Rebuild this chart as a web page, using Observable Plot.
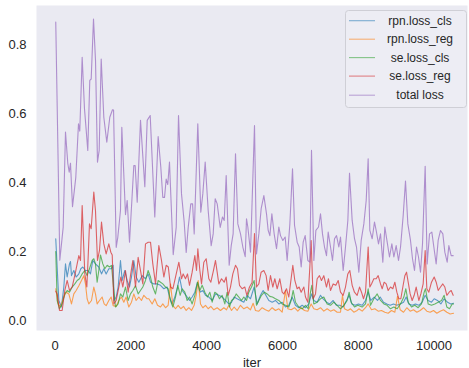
<!DOCTYPE html>
<html><head><meta charset="utf-8">
<script src="https://cdn.jsdelivr.net/npm/d3@7"></script>
<script src="https://cdn.jsdelivr.net/npm/@observablehq/plot@0.6"></script>
<style>
html,body{margin:0;padding:0;background:#fff;}
#chart{width:469px;height:368px;}
</style></head><body><div id="chart"></div>
<script>
const seriesNames = ["rpn.loss_cls", "rpn.loss_reg", "se.loss_cls", "se.loss_reg", "total loss"];
const seriesColors = ["#1f77b4", "#ff7f0e", "#2ca02c", "#d62728", "#9467bd"];
const xTicks = [0, 2000, 4000, 6000, 8000, 10000];
const yTicks = [0, 0.2, 0.4, 0.6, 0.8];

const rpnClsIter = [20,101,171,233,277,321,382,409,435,497,558,629,681,734,804,875,936,998,1068,1156,1227,1288,1350,1420,1490,1535,1560,1614,1666,1728,1772,1842,1904,1965,2018,2080,2141,2212,2300,2388,2458,2520,2608,2696,2784,2872,2960,3021,3092,3162,3224,3285,3355,3426,3487,3549,3619,3690,3760,3822,3901,3971,4059,4147,4235,4323,4411,4499,4587,4657,4727,4806,4894,4982,5070,5158,5255,5334,5422,5492,5563,5642,5730,5817,5906,5994,6081,6169,6257,6345,6433,6521,6609,6697,6767,6829,6917,7005,7075,7163,7251,7339,7427,7515,7603,7691,7761,7832,7920,8008,8105,8193,8263,8334,8422,8510,8580,8668,8756,8844,8932,9020,9108,9196,9266,9336,9424,9512,9600,9688,9767,9846,9934,10005,10093,10181,10268,10356,10444,10515];
const rpnClsValue = [0.237,0.058,0.039,0.097,0.164,0.126,0.164,0.171,0.13,0.145,0.126,0.135,0.15,0.155,0.145,0.145,0.135,0.174,0.164,0.155,0.135,0.15,0.135,0.15,0.15,0.16,0.058,0.068,0.097,0.174,0.116,0.145,0.116,0.097,0.126,0.174,0.126,0.111,0.13,0.121,0.135,0.111,0.106,0.106,0.102,0.092,0.097,0.068,0.048,0.068,0.092,0.126,0.087,0.077,0.068,0.058,0.068,0.082,0.111,0.082,0.087,0.073,0.068,0.058,0.077,0.073,0.068,0.058,0.048,0.053,0.068,0.063,0.058,0.053,0.073,0.063,0.097,0.048,0.073,0.087,0.073,0.058,0.053,0.058,0.048,0.053,0.039,0.044,0.068,0.044,0.037,0.044,0.037,0.048,0.077,0.058,0.053,0.073,0.063,0.053,0.048,0.058,0.044,0.044,0.039,0.058,0.073,0.048,0.044,0.048,0.044,0.058,0.082,0.058,0.068,0.058,0.068,0.053,0.048,0.044,0.048,0.044,0.048,0.053,0.068,0.048,0.044,0.048,0.044,0.053,0.073,0.058,0.053,0.063,0.058,0.048,0.063,0.053,0.048,0.05];

const rpnRegIter = [20,83,145,233,294,365,435,497,558,629,699,760,804,848,892,963,1024,1068,1112,1174,1244,1297,1350,1420,1482,1534,1614,1684,1754,1816,1877,1948,2018,2080,2141,2212,2282,2344,2432,2476,2564,2634,2705,2784,2845,2916,2986,3048,3109,3180,3250,3320,3391,3461,3531,3602,3672,3725,3778,3839,3901,3971,4042,4112,4191,4279,4367,4455,4525,4587,4657,4727,4806,4894,4982,5070,5158,5228,5290,5378,5466,5554,5642,5730,5817,5906,5994,6081,6143,6231,6319,6407,6495,6583,6671,6759,6829,6917,7005,7093,7181,7269,7357,7445,7533,7585,7638,7726,7797,7885,7973,8017,8105,8193,8263,8351,8439,8527,8615,8703,8791,8879,8967,9037,9108,9196,9283,9371,9459,9547,9635,9723,9811,9899,9987,10075,10163,10251,10339,10427,10515];
const rpnRegValue = [0.092,0.048,0.039,0.068,0.082,0.077,0.048,0.077,0.087,0.101,0.116,0.13,0.106,0.063,0.048,0.058,0.097,0.077,0.048,0.058,0.068,0.048,0.043,0.058,0.068,0.043,0.041,0.058,0.068,0.053,0.068,0.039,0.053,0.077,0.058,0.068,0.058,0.073,0.063,0.063,0.048,0.063,0.044,0.039,0.048,0.037,0.044,0.106,0.044,0.034,0.044,0.034,0.041,0.029,0.037,0.029,0.044,0.073,0.116,0.048,0.037,0.044,0.034,0.041,0.031,0.037,0.029,0.037,0.031,0.044,0.029,0.039,0.029,0.044,0.034,0.039,0.031,0.05,0.029,0.027,0.037,0.031,0.027,0.037,0.029,0.034,0.024,0.087,0.034,0.031,0.037,0.027,0.037,0.029,0.027,0.048,0.034,0.031,0.037,0.027,0.034,0.027,0.031,0.024,0.024,0.073,0.034,0.029,0.034,0.024,0.029,0.034,0.027,0.037,0.048,0.031,0.034,0.027,0.029,0.024,0.021,0.029,0.024,0.07,0.031,0.024,0.037,0.027,0.031,0.024,0.029,0.037,0.027,0.024,0.029,0.021,0.027,0.031,0.024,0.019,0.021];

const seClsIter = [20,57,118,189,259,321,382,453,523,585,646,716,787,848,910,980,1024,1068,1112,1156,1200,1262,1315,1376,1438,1490,1543,1596,1666,1728,1789,1860,1930,1992,2053,2124,2194,2255,2317,2388,2458,2520,2581,2652,2722,2784,2845,2916,2986,3048,3109,3180,3241,3303,3355,3426,3487,3549,3619,3690,3760,3822,3883,3954,4024,4085,4147,4217,4279,4340,4411,4481,4543,4604,4657,4719,4780,4850,4921,4982,5053,5114,5185,5255,5316,5378,5448,5527,5598,5668,5738,5817,5906,5994,6081,6169,6231,6284,6345,6433,6521,6609,6680,6741,6776,6829,6917,7005,7093,7181,7269,7357,7445,7533,7621,7709,7761,7814,7902,7990,8105,8193,8263,8325,8413,8501,8589,8677,8764,8852,8940,9028,9116,9204,9257,9319,9407,9495,9582,9670,9741,9776,9846,9934,10022,10110,10198,10268,10339,10409,10480,10515];
const seClsValue = [0.2,0.058,0.034,0.048,0.077,0.087,0.082,0.097,0.106,0.116,0.121,0.135,0.145,0.13,0.15,0.174,0.179,0.164,0.111,0.145,0.19,0.164,0.15,0.16,0.155,0.16,0.097,0.039,0.048,0.077,0.068,0.097,0.058,0.077,0.087,0.101,0.077,0.087,0.097,0.116,0.145,0.126,0.097,0.077,0.116,0.111,0.106,0.097,0.092,0.058,0.039,0.068,0.102,0.073,0.092,0.082,0.058,0.068,0.048,0.073,0.111,0.087,0.102,0.082,0.068,0.082,0.053,0.082,0.077,0.063,0.073,0.048,0.082,0.039,0.058,0.063,0.077,0.068,0.058,0.068,0.058,0.082,0.097,0.116,0.044,0.058,0.073,0.082,0.077,0.07,0.068,0.063,0.058,0.048,0.044,0.039,0.058,0.087,0.053,0.039,0.034,0.044,0.034,0.082,0.102,0.048,0.053,0.063,0.068,0.048,0.044,0.053,0.044,0.034,0.044,0.058,0.082,0.053,0.039,0.044,0.039,0.048,0.092,0.044,0.063,0.077,0.058,0.048,0.044,0.034,0.039,0.034,0.048,0.068,0.092,0.053,0.039,0.044,0.037,0.048,0.082,0.092,0.048,0.044,0.048,0.053,0.058,0.073,0.039,0.034,0.048,0.048];

const seRegIter = [20,57,119,189,259,321,383,453,541,629,673,717,787,840,875,910,954,1024,1068,1121,1174,1227,1288,1350,1420,1473,1510,1552,1614,1684,1737,1790,1860,1930,1992,2053,2124,2194,2255,2317,2388,2460,2520,2581,2652,2740,2810,2872,2933,2990,3048,3110,3180,3268,3338,3382,3443,3496,3549,3619,3690,3734,3769,3822,3866,3927,3989,4059,4112,4182,4235,4279,4323,4393,4464,4516,4569,4630,4692,4763,4815,4868,4938,5009,5062,5132,5200,5264,5316,5378,5439,5510,5571,5624,5686,5747,5800,5862,5932,5994,6038,6108,6169,6213,6275,6328,6389,6442,6495,6566,6609,6671,6724,6759,6811,6873,6917,6978,7031,7093,7163,7216,7269,7339,7410,7472,7533,7603,7665,7726,7779,7841,7902,7972,8035,8087,8140,8193,8263,8307,8351,8413,8474,8527,8589,8633,8685,8738,8791,8852,8914,8967,9020,9072,9125,9178,9231,9275,9319,9371,9424,9477,9530,9600,9653,9714,9767,9811,9864,9934,10005,10058,10110,10172,10233,10286,10339,10400,10453,10506];
const seRegValue = [0.085,0.077,0.029,0.029,0.087,0.116,0.087,0.097,0.14,0.188,0.174,0.333,0.135,0.097,0.183,0.28,0.266,0.372,0.319,0.174,0.203,0.285,0.222,0.193,0.222,0.198,0.19,0.048,0.058,0.097,0.126,0.097,0.145,0.082,0.13,0.174,0.097,0.183,0.145,0.106,0.222,0.227,0.227,0.164,0.106,0.217,0.174,0.126,0.16,0.155,0.097,0.092,0.126,0.169,0.121,0.135,0.121,0.135,0.102,0.14,0.188,0.145,0.208,0.145,0.106,0.169,0.179,0.121,0.111,0.145,0.174,0.14,0.106,0.121,0.111,0.126,0.073,0.097,0.135,0.16,0.15,0.102,0.092,0.097,0.073,0.097,0.11,0.252,0.097,0.106,0.14,0.145,0.13,0.087,0.13,0.097,0.121,0.092,0.121,0.082,0.077,0.092,0.068,0.106,0.16,0.116,0.092,0.097,0.082,0.097,0.068,0.053,0.155,0.232,0.063,0.077,0.121,0.13,0.116,0.13,0.097,0.121,0.087,0.106,0.102,0.116,0.082,0.073,0.097,0.135,0.145,0.102,0.082,0.073,0.097,0.082,0.063,0.082,0.213,0.097,0.106,0.121,0.121,0.13,0.106,0.092,0.111,0.106,0.087,0.097,0.092,0.111,0.082,0.063,0.063,0.097,0.13,0.14,0.111,0.077,0.058,0.073,0.097,0.058,0.077,0.106,0.203,0.092,0.082,0.111,0.126,0.111,0.087,0.097,0.106,0.097,0.073,0.082,0.087,0.073];

const totalIter = [20,127,216,277,338,375,409,462,549,620,654,717,778,865,918,955,1016,1069,1121,1166,1219,1288,1367,1446,1517,1545,1615,1657,1728,1763,1860,1905,1966,2080,2115,2169,2256,2370,2433,2512,2633,2722,2792,2844,2890,2934,2976,3021,3119,3198,3259,3338,3409,3462,3515,3583,3630,3673,3768,3847,3900,3963,4042,4121,4174,4227,4280,4359,4420,4465,4517,4596,4650,4700,4763,4824,4895,4956,5019,5053,5088,5159,5264,5317,5379,5440,5511,5581,5625,5669,5722,5783,5845,5906,5950,6012,6073,6126,6197,6267,6320,6390,6443,6496,6548,6601,6671,6724,6768,6830,6883,6953,7006,7058,7111,7164,7208,7270,7322,7375,7428,7489,7533,7604,7665,7727,7771,7841,7903,7955,8017,8079,8149,8211,8263,8307,8369,8430,8474,8536,8589,8650,8703,8765,8826,8888,8941,9002,9064,9117,9187,9248,9310,9380,9433,9486,9539,9591,9644,9697,9767,9820,9882,9943,9996,10057,10110,10172,10233,10286,10348,10392,10453,10506];
const totalValue = [0.865,0.175,0.27,0.546,0.455,0.43,0.456,0.33,0.415,0.57,0.549,0.763,0.614,0.493,0.696,0.70,0.874,0.754,0.459,0.493,0.758,0.589,0.517,0.589,0.611,0.61,0.212,0.241,0.319,0.56,0.307,0.348,0.227,0.449,0.449,0.343,0.58,0.388,0.58,0.594,0.30,0.533,0.444,0.357,0.357,0.41,0.394,0.459,0.191,0.27,0.594,0.367,0.285,0.197,0.27,0.338,0.338,0.251,0.57,0.314,0.367,0.459,0.319,0.217,0.251,0.353,0.338,0.27,0.30,0.29,0.42,0.16,0.217,0.251,0.483,0.28,0.251,0.213,0.185,0.295,0.271,0.198,0.565,0.193,0.251,0.324,0.362,0.309,0.261,0.246,0.309,0.251,0.208,0.271,0.246,0.232,0.242,0.174,0.28,0.44,0.276,0.227,0.213,0.155,0.227,0.246,0.174,0.169,0.493,0.174,0.261,0.271,0.309,0.251,0.213,0.188,0.256,0.213,0.174,0.237,0.246,0.213,0.242,0.145,0.213,0.29,0.427,0.29,0.237,0.213,0.14,0.232,0.28,0.348,0.469,0.261,0.237,0.285,0.261,0.222,0.251,0.169,0.271,0.227,0.184,0.222,0.184,0.217,0.174,0.213,0.304,0.404,0.28,0.232,0.179,0.145,0.213,0.184,0.14,0.222,0.447,0.164,0.251,0.256,0.213,0.164,0.232,0.261,0.251,0.198,0.169,0.217,0.188,0.188];

const toRows = (iters, values) => iters.map((it, i) => ({iter: it, value: values[i]}));
const seriesData = [
  toRows(rpnClsIter, rpnClsValue),
  toRows(rpnRegIter, rpnRegValue),
  toRows(seClsIter, seClsValue),
  toRows(seRegIter, seRegValue),
  toRows(totalIter, totalValue)
];

const W = 469, H = 368;
const mL = 36, mT = 5, mR = 2, mB = 38;
const font = "'Liberation Sans', Arial, sans-serif";

const chart = Plot.plot({
  width: W, height: H,
  marginLeft: mL, marginTop: mT, marginRight: mR, marginBottom: mB,
  style: {fontFamily: font, fontSize: "13px", color: "#262626", background: "transparent"},
  x: {domain: [-488, 10884]},
  y: {domain: [-0.029, 0.913]},
  marks: [
    Plot.frame({fill: "#eaeaf2", stroke: null}),
    Plot.axisX(xTicks, {tickSize: 0, tickPadding: 10, tickFormat: d => String(d), label: "iter", labelAnchor: "center", labelArrow: "none", labelOffset: 36, fontSize: 13}),
    Plot.axisY(yTicks, {tickSize: 0, tickPadding: 10, tickFormat: d3.format(".1f"), label: null, fontSize: 13}),
    ...seriesData.map((rows, i) => Plot.line(rows, {x: "iter", y: "value", stroke: seriesColors[i], strokeWidth: 1.1, strokeOpacity: 0.7}))
  ]
});
document.getElementById("chart").appendChild(chart);

// legend (matplotlib-style box, top right)
const svg = d3.select(chart);
const lg = svg.append("g").attr("font-family", font).attr("font-size", 12);
lg.append("rect").attr("x", 345.5).attr("y", 10.5).attr("width", 121).attr("height", 97)
  .attr("rx", 3).attr("fill", "#ededf4").attr("fill-opacity", 0.9).attr("stroke", "#cfcfd6");
const rowY = [20.7, 39.2, 57.6, 76.1, 95.2];
seriesNames.forEach((name, i) => {
  lg.append("line").attr("x1", 349).attr("x2", 375).attr("y1", rowY[i]).attr("y2", rowY[i])
    .attr("stroke", seriesColors[i]).attr("stroke-width", 1.1).attr("stroke-opacity", 0.55);
  lg.append("text").attr("x", 420).attr("y", rowY[i]).attr("dy", "0.35em")
    .attr("text-anchor", "middle").attr("fill", "#262626").text(name);
});
</script></body></html>
